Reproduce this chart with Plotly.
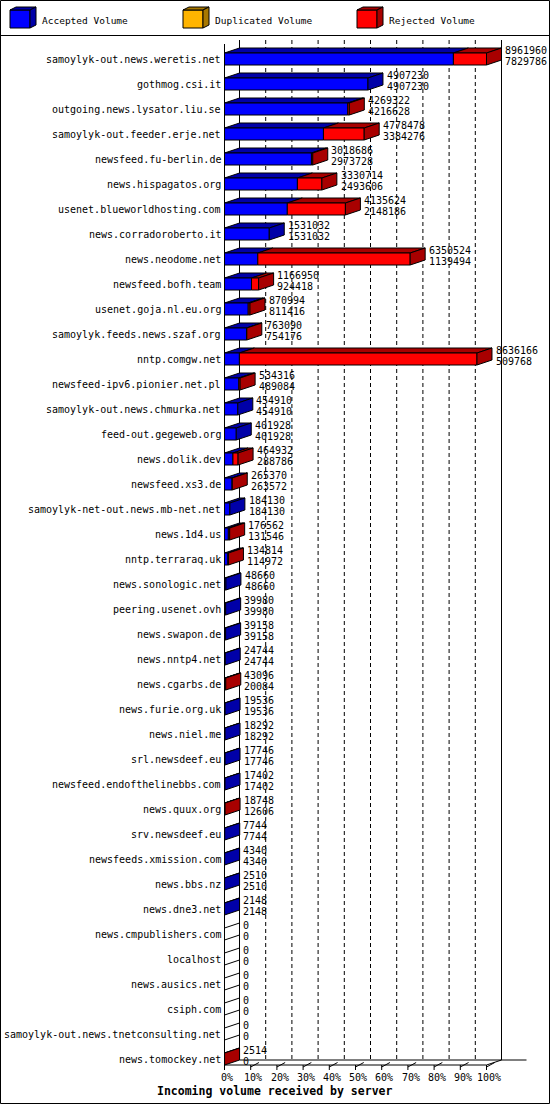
import plotly.graph_objects as go

# ---------------- data ----------------
servers = [
    "samoylyk-out.news.weretis.net", "gothmog.csi.it", "outgoing.news.lysator.liu.se",
    "samoylyk-out.feeder.erje.net", "newsfeed.fu-berlin.de", "news.hispagatos.org",
    "usenet.blueworldhosting.com", "news.corradoroberto.it", "news.neodome.net",
    "newsfeed.bofh.team", "usenet.goja.nl.eu.org", "samoylyk.feeds.news.szaf.org",
    "nntp.comgw.net", "newsfeed-ipv6.pionier.net.pl", "samoylyk-out.news.chmurka.net",
    "feed-out.gegeweb.org", "news.dolik.dev", "newsfeed.xs3.de",
    "samoylyk-net-out.news.mb-net.net", "news.1d4.us", "nntp.terraraq.uk",
    "news.sonologic.net", "peering.usenet.ovh", "news.swapon.de", "news.nntp4.net",
    "news.cgarbs.de", "news.furie.org.uk", "news.niel.me", "srl.newsdeef.eu",
    "newsfeed.endofthelinebbs.com", "news.quux.org", "srv.newsdeef.eu",
    "newsfeeds.xmission.com", "news.bbs.nz", "news.dne3.net", "news.cmpublishers.com",
    "localhost", "news.ausics.net", "csiph.com", "samoylyk-out.news.tnetconsulting.net",
    "news.tomockey.net",
]
total_volume = [
    8961960, 4907230, 4269322, 4778478, 3018686, 3330714, 4135624, 1531032, 6350524,
    1166950, 870994, 763090, 8636166, 534316, 454910, 401928, 464932, 265370, 184130,
    176562, 134814, 48660, 39980, 39158, 24744, 43096, 19536, 18292, 17746, 17402,
    18748, 7744, 4340, 2510, 2148, 0, 0, 0, 0, 0, 2514,
]
accepted_volume = [
    7829786, 4907230, 4216628, 3384276, 2973728, 2493606, 2148186, 1531032, 1139494,
    924418, 811416, 754176, 509768, 489084, 454910, 401928, 288786, 263572, 184130,
    131546, 114972, 48660, 39980, 39158, 24744, 20084, 19536, 18292, 17746, 17402,
    12606, 7744, 4340, 2510, 2148, 0, 0, 0, 0, 0, 0,
]
tick_labels = ["0%", "10%", "20%", "30%", "40%", "50%", "60%", "70%", "80%", "90%", "100%"]
tick_values = [0, 10, 20, 30, 40, 50, 60, 70, 80, 90, 100]
legend_names = ["Accepted Volume", "Duplicated Volume", "Rejected Volume"]

# ---------------- style ----------------
W, H_FIG = 550, 1105
X0_PX, PX_PER_PCT = 224.5, 2.62
ROW0_PX, ROW_PX = 59.0, 25.0
FONT = "DejaVu Sans Mono"
BLUE, DBLUE = "#0000ff", "#0000a8"
RED, DRED = "#ff0000", "#a80000"
ORANGE, DORANGE = "#ffb400", "#a87800"


def X(px):
    return (px - X0_PX) / PX_PER_PCT


def Y(py):
    return (py - ROW0_PX) / ROW_PX


DX = 15 / PX_PER_PCT      # depth in x (percent units)
DY = 5 / ROW_PX           # depth in y (row units)
HH = 6 / ROW_PX           # half height of front face

max_total = max(total_volume)

polys = {k: ([], []) for k in ["fb", "fr", "tb", "tr", "sb", "sr", "sw"]}


def add(key, xs, ys):
    polys[key][0].extend(xs + [None])
    polys[key][1].extend(ys + [None])


for i, (tot, acc) in enumerate(zip(total_volume, accepted_volume)):
    pt = tot / max_total * 100
    pa = acc / max_total * 100
    top, bot = i - HH, i + HH
    if pa > 0:
        add("fb", [0, pa, pa, 0, 0], [top, top, bot, bot, top])
        add("tb", [0, pa, pa + DX, DX, 0], [top, top, top - DY, top - DY, top])
    if pt > pa:
        add("fr", [pa, pt, pt, pa, pa], [top, top, bot, bot, top])
        add("tr", [pa, pt, pt + DX, pa + DX, pa], [top, top, top - DY, top - DY, top])
    key = "sr" if pt > pa else ("sb" if pt > 0 else "sw")
    add(key, [pt, pt + DX, pt + DX, pt, pt], [top, top - DY, bot - DY, bot, top])

fig = go.Figure()

# grid (back plane)
gx_d, gy_d = [], []
for v in tick_values[1:-1]:
    gx_d += [v + DX, v + DX, None]
    gy_d += [Y(40), Y(1060), None]
fig.add_trace(go.Scatter(x=gx_d, y=gy_d, mode="lines",
                         line=dict(color="black", width=1, dash="4px,3px"),
                         hoverinfo="skip", showlegend=False))
sx, sy = [], []
for v in [tick_values[0], tick_values[-1]]:
    sx += [v + DX, v + DX, None]
    sy += [Y(40), Y(1060), None]
# front-left wall line
sx += [0, 0, None]
sy += [Y(44), Y(1070), None]
# back floor line
sx += [DX, X(526.5), None]
sy += [Y(1060), Y(1060), None]
# front floor line
sx += [0, 100, None]
sy += [Y(1065), Y(1065), None]
# right floor edge
sx += [100, 100 + DX, None]
sy += [Y(1065), Y(1060), None]
# ticks
for v in tick_values:
    sx += [v, v, None]
    sy += [Y(1065), Y(1070), None]
    if v > 0:
        sx += [v, v + DX * 0.55, None]
        sy += [Y(1067), Y(1062.5), None]
fig.add_trace(go.Scatter(x=sx, y=sy, mode="lines",
                         line=dict(color="black", width=1),
                         hoverinfo="skip", showlegend=False))

colors = {"fb": BLUE, "fr": RED, "tb": DBLUE, "tr": DRED, "sb": DBLUE, "sr": DRED, "sw": "white"}
for k in ["tb", "tr", "fb", "fr", "sb", "sr", "sw"]:
    xs, ys = polys[k]
    if not xs:
        continue
    fig.add_trace(go.Scatter(x=xs, y=ys, mode="lines", fill="toself",
                             fillcolor=colors[k], line=dict(color="black", width=1),
                             hoverinfo="skip", showlegend=False))

# legend cubes
legend_x = [10, 183, 357]
legend_cols = [(BLUE, DBLUE), (ORANGE, DORANGE), (RED, DRED)]
for lx, (fc, dc), name in zip(legend_x, legend_cols, legend_names):
    x0, x1 = X(lx), X(lx + 20)
    y0, y1 = Y(10), Y(28)
    ddx, ddy = 6 / PX_PER_PCT, 3 / ROW_PX
    for xs, ys, c in [
        ([x0, x1, x1, x0, x0], [y0, y0, y1, y1, y0], fc),
        ([x0, x1, x1 + ddx, x0 + ddx, x0], [y0, y0, y0 - ddy, y0 - ddy, y0], dc),
        ([x1, x1 + ddx, x1 + ddx, x1, x1], [y0, y0 - ddy, y1 - ddy, y1, y0], dc),
    ]:
        fig.add_trace(go.Scatter(x=xs, y=ys, mode="lines", fill="toself", fillcolor=c,
                                 line=dict(color="black", width=1),
                                 hoverinfo="skip", showlegend=False))
    fig.add_annotation(x=X(lx + 32), y=Y(20), text=name, showarrow=False,
                       xanchor="left", yanchor="middle",
                       font=dict(family=FONT, size=9.5, color="black"),
                       borderpad=0, borderwidth=0)

ann = []
for i, (name, tot, acc) in enumerate(zip(servers, total_volume, accepted_volume)):
    pt = tot / max_total * 100
    ann.append(dict(x=X(221), y=i, text=name, xanchor="right", yanchor="middle"))
    ann.append(dict(x=pt + DX + 1.41, y=i - 9 / ROW_PX, text=str(tot), xanchor="left", yanchor="middle"))
    ann.append(dict(x=pt + DX + 1.41, y=i + 2.5 / ROW_PX, text=str(acc), xanchor="left", yanchor="middle"))
for v, lab in zip(tick_values, tick_labels):
    ann.append(dict(x=v + 1, y=Y(1077), text=lab, xanchor="center", yanchor="middle"))
for a in ann:
    fig.add_annotation(showarrow=False, font=dict(family=FONT, size=10, color="black"),
                       borderpad=0, borderwidth=0, **a)
fig.add_annotation(x=X(274), y=Y(1091), text="<b>Incoming volume received by server</b>",
                   showarrow=False, xanchor="center", yanchor="middle",
                   font=dict(family=FONT, size=11.5, color="black"), borderpad=0, borderwidth=0)

# frame and legend separator
fig.add_shape(type="rect", x0=X(0.5), x1=X(549.5), y0=Y(0.5), y1=Y(1103.5),
              line=dict(color="black", width=1), fillcolor="rgba(0,0,0,0)")
fig.add_shape(type="line", x0=X(0), x1=X(550), y0=Y(35.5), y1=Y(35.5),
              line=dict(color="black", width=1))

fig.update_layout(
    width=W, height=H_FIG, margin=dict(l=0, r=0, t=0, b=0, pad=0),
    paper_bgcolor="white", plot_bgcolor="white", showlegend=False,
    xaxis=dict(range=[X(0), X(W)], visible=False, fixedrange=True),
    yaxis=dict(range=[Y(H_FIG), Y(0)], visible=False, fixedrange=True),
)
fig.write_html("out.html", config={"displayModeBar": False},
               post_script="document.body.style.margin='0';document.body.style.overflow='hidden';")
